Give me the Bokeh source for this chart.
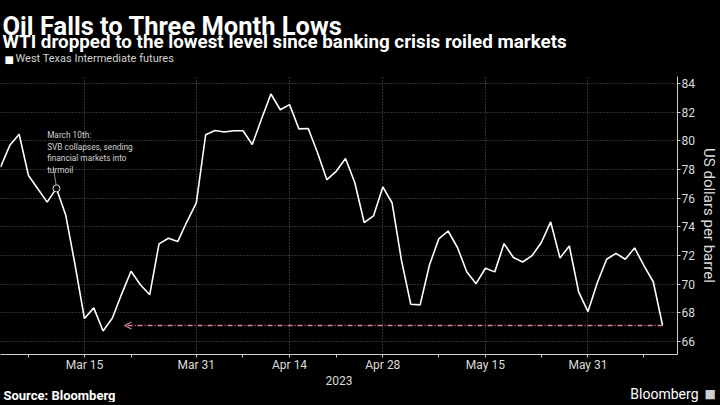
import pandas as pd
from bokeh.plotting import figure
from bokeh.layouts import column
from bokeh.models import Label, Arrow, OpenHead, FixedTicker, Range1d
from bokeh.embed import file_html
from bokeh.resources import INLINE

try:
    from bokeh.models import GlobalInlineStyleSheet
    page_styles = [GlobalInlineStyleSheet(css="html, body { background-color: #000000; }")]
except Exception:
    page_styles = []

# ---- data ----
dates = [
    "2023-03-02", "2023-03-03", "2023-03-06", "2023-03-07", "2023-03-08", "2023-03-09", "2023-03-10",
    "2023-03-13", "2023-03-14", "2023-03-15", "2023-03-16", "2023-03-17", "2023-03-20", "2023-03-21",
    "2023-03-22", "2023-03-23", "2023-03-24", "2023-03-27", "2023-03-28", "2023-03-29", "2023-03-30",
    "2023-03-31",
    "2023-04-03", "2023-04-04", "2023-04-05", "2023-04-06", "2023-04-07", "2023-04-10", "2023-04-11",
    "2023-04-12", "2023-04-13", "2023-04-14", "2023-04-17", "2023-04-18", "2023-04-19", "2023-04-20",
    "2023-04-21", "2023-04-24", "2023-04-25", "2023-04-26", "2023-04-27", "2023-04-28",
    "2023-05-01", "2023-05-02", "2023-05-03", "2023-05-04", "2023-05-05", "2023-05-08", "2023-05-09",
    "2023-05-10", "2023-05-11", "2023-05-12", "2023-05-15", "2023-05-16", "2023-05-17", "2023-05-18",
    "2023-05-19", "2023-05-22", "2023-05-23", "2023-05-24", "2023-05-25", "2023-05-26", "2023-05-30",
    "2023-05-31",
    "2023-06-01", "2023-06-02", "2023-06-05", "2023-06-06", "2023-06-07", "2023-06-08", "2023-06-09",
    "2023-06-12",
]
wti = [
    78.16, 79.68, 80.46, 77.58, 76.66, 75.72, 76.68, 74.80, 71.33, 67.61, 68.35, 66.74, 67.64, 69.33,
    70.90, 69.96, 69.26, 72.81, 73.20, 72.97, 74.37, 75.67,
    80.42, 80.71, 80.61, 80.70, 80.70, 79.74, 81.53, 83.26, 82.16, 82.52, 80.83, 80.86, 79.16, 77.29,
    77.87, 78.76, 77.07, 74.30, 74.76, 76.78,
    75.66, 71.66, 68.60, 68.56, 71.34, 73.16, 73.71, 72.56, 70.87, 70.04, 71.11, 70.86, 72.83, 71.86,
    71.55, 71.99, 72.91, 74.34, 71.83, 72.67, 69.46, 68.09,
    70.10, 71.74, 72.15, 71.74, 72.53, 71.29, 70.17, 67.12,
]
major_tick_dates = ["2023-03-15", "2023-03-31", "2023-04-14", "2023-04-28", "2023-05-15", "2023-05-31"]
minor_tick_dates = ["2023-03-07", "2023-03-22", "2023-04-07", "2023-04-21", "2023-05-08", "2023-05-23", "2023-06-08"]
y_ticks = [66, 68, 70, 72, 74, 76, 78, 80, 82, 84]
annotation_date = "2023-03-10"
annotation_text = "March 10th:\nSVB collapses, sending\nfinancial markets into\nturmoil"
title_text = "Oil Falls to Three Month Lows"
subtitle_text = "WTI dropped to the lowest level since banking crisis roiled markets"
series_name = "West Texas Intermediate futures"

FONT = "Roboto"
PINK = "#d9829b"
TXT = "#dcdcdc"

idx = list(range(len(dates)))
pos = {d: i for i, d in enumerate(dates)}
major = [pos[d] for d in major_tick_dates]
minor = [pos[d] for d in minor_tick_dates]
labels = {}
for d in major_tick_dates:
    ts = pd.Timestamp(d)
    labels[pos[d]] = f"{ts:%b} {ts.day}"


def blank(h):
    f = figure(frame_width=720, frame_height=h, output_backend="svg", toolbar_location=None,
               x_range=Range1d(0, 720), y_range=Range1d(h, 0),
               x_axis_type=None, y_axis_type=None,
               min_border_left=0, min_border_right=0, min_border_top=0, min_border_bottom=0,
               background_fill_color="black", border_fill_color="black", outline_line_color=None)
    return f


# ---- header ----
header = blank(72)
header.add_layout(Label(x=2, y=25, text=title_text, text_font=FONT, text_font_size="25.5px",
                        text_font_style="bold", text_color="white", text_baseline="alphabetic"))
header.add_layout(Label(x=2, y=41.5, text=subtitle_text, text_font=FONT, text_font_size="18.8px",
                        text_font_style="bold", text_color="white", text_baseline="alphabetic"))
header.add_layout(Label(x=4, y=58.5, text="\u25A0", text_font="DejaVu Sans", text_font_size="10px",
                        text_color="white", text_baseline="middle"))
header.add_layout(Label(x=15, y=58, text=series_name, text_font=FONT, text_font_size="11px",
                        text_color="#d0d0d0", text_baseline="middle"))

# ---- main chart ----
p_main = figure(width=720, height=315, output_backend="svg", toolbar_location=None,
                x_range=Range1d(0, 72.6), y_range=Range1d(65.10, 84.48),
                y_axis_location="right",
                min_border_left=0, min_border_right=40, min_border_top=4, min_border_bottom=32,
                background_fill_color="black", border_fill_color="black", outline_line_color=None)

p_main.ygrid.ticker = FixedTicker(ticks=y_ticks)
p_main.xgrid.ticker = FixedTicker(ticks=major)
for g in (p_main.xgrid, p_main.ygrid):
    g.grid_line_color = "#5e5e5e"
    g.grid_line_dash = "1 2"
    g.grid_line_width = 1

xa = p_main.xaxis[0]
xa.ticker = FixedTicker(ticks=major, minor_ticks=minor)
xa.major_label_overrides = labels
xa.axis_label = "2023"
xa.axis_label_text_font = FONT
xa.axis_label_text_font_style = "normal"
xa.axis_label_text_font_size = "12px"
xa.axis_label_text_color = TXT
xa.axis_label_standoff = 1
xa.major_label_text_font = FONT
xa.major_label_text_font_size = "12px"
xa.major_label_text_color = TXT
xa.major_label_standoff = 0
xa.axis_line_color = "#d0d0d0"
xa.major_tick_line_color = "#d0d0d0"
xa.minor_tick_line_color = "#d0d0d0"
xa.major_tick_in = 0
xa.major_tick_out = 3
xa.minor_tick_in = 0
xa.minor_tick_out = 3

ya = p_main.yaxis[0]
ya.ticker = FixedTicker(ticks=y_ticks)
ya.axis_label = "US dollars per barrel"
ya.axis_label_text_font = FONT
ya.axis_label_text_font_style = "normal"
ya.axis_label_text_font_size = "15px"
ya.axis_label_text_color = TXT
ya.axis_label_standoff = 2
ya.major_label_text_font = FONT
ya.major_label_text_font_size = "12px"
ya.major_label_text_color = TXT
ya.major_label_standoff = 1
ya.axis_line_color = "#d0d0d0"
ya.major_tick_line_color = "#d0d0d0"
ya.major_tick_in = 0
ya.major_tick_out = 3
ya.minor_tick_line_color = None

p_main.line(idx, wti, line_color="white", line_width=1.6)

low_i = wti.index(min(wti))
p_main.add_layout(Arrow(end=OpenHead(size=7, line_color=PINK, line_width=1.2),
                        x_start=idx[-1], y_start=wti[-1], x_end=low_i + 2.3, y_end=wti[-1],
                        line_color=PINK, line_width=1.3, line_dash="5 2 1 2"))

ai = pos[annotation_date]
p_main.segment(x0=[ai - 0.35], y0=[78.2], x1=[ai - 0.03], y1=[wti[ai] + 0.22],
               line_color="#bdbdbd", line_width=0.8)
p_main.scatter(x=[ai], y=[wti[ai]], size=7, fill_color="black", line_color="#e0e0e0", line_width=1)
p_main.add_layout(Label(x=ai - 1.0, y=80.75, text=annotation_text, text_font=FONT,
                        text_font_size="8.3px", text_color="#d2d2d2", text_baseline="top",
                        text_line_height=1.15))

# ---- footer ----
footer = blank(15)
footer.add_layout(Label(x=3, y=8, text="Source: Bloomberg", text_font=FONT, text_font_size="13px",
                        text_font_style="bold", text_color="white", text_baseline="middle"))
footer.add_layout(Label(x=698, y=6.5, text="Bloomberg", text_font=FONT, text_font_size="14px",
                        text_color="white", text_align="right", text_baseline="middle"))
footer.add_layout(Label(x=704, y=6.5, text="\u25A0", text_font="DejaVu Sans", text_font_size="12px",
                        text_color="#cfcfcf", text_baseline="middle"))

p = column(header, p_main, footer, spacing=0, stylesheets=page_styles)
open("out.html", "w").write(file_html(p, INLINE))
